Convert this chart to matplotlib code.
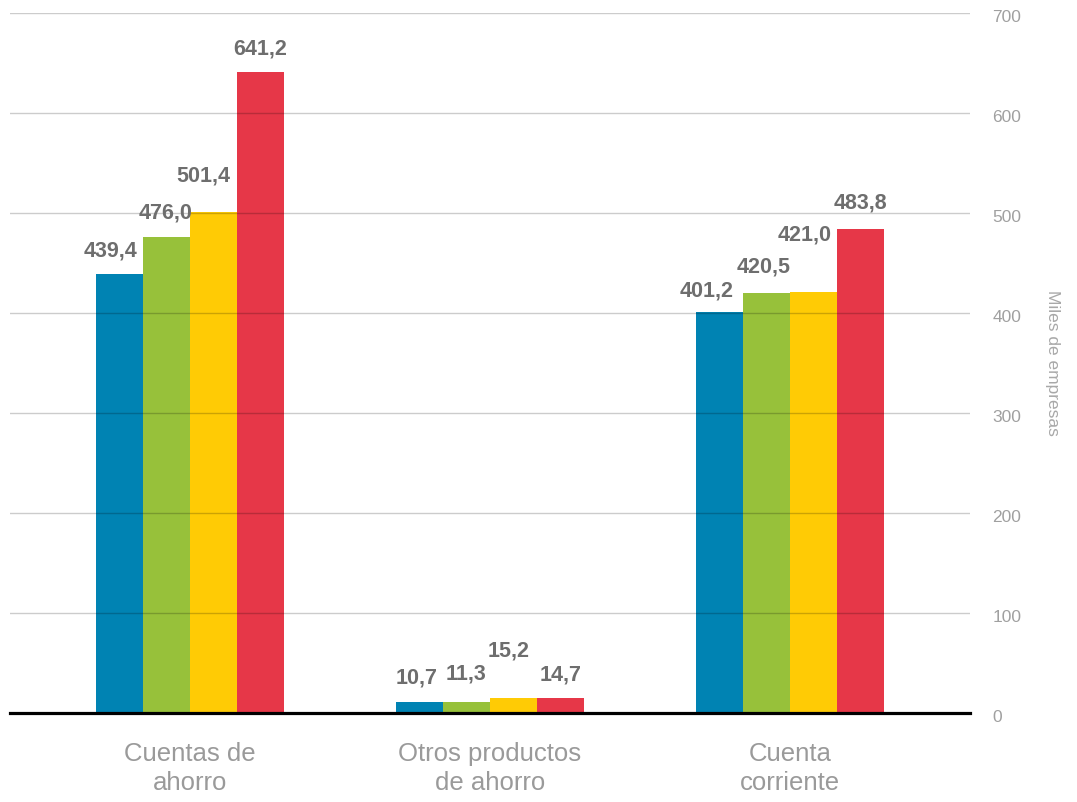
import matplotlib
matplotlib.use("Agg")
import matplotlib.pyplot as plt
import matplotlib.transforms as mtransforms
import numpy as np

# Data
categories = ["Cuentas de\nahorro", "Otros productos\nde ahorro", "Cuenta\ncorriente"]
serie_1 = [439.4, 10.7, 401.2]
serie_2 = [476.0, 11.3, 420.5]
serie_3 = [501.4, 15.2, 421.0]
serie_4 = [641.2, 14.7, 483.8]
yticks = [0, 100, 200, 300, 400, 500, 600, 700]

series = [serie_1, serie_2, serie_3, serie_4]
colors = ["#0083B3", "#97C13A", "#FFCB05", "#E63748"]

# label placement (baseline above value, horizontal shift in px)
label_dy = [[17, 19, 15], [19, 22, 20], [30, 41, 52], [17, 18, 21]]
label_dx = [[-9, -3, -13], [-1, 0, -3], [-10, -5, -9], [0, 0, 0]]

plt.rcParams["font.family"] = ["Liberation Sans", "DejaVu Sans"]

fig = plt.figure(figsize=(10.77, 8.02), dpi=100)
ax = fig.add_axes([10 / 1077, 89 / 802, 960 / 1077, 700 / 802])

x = np.arange(len(categories))
width = 0.1567

for i, (vals, col) in enumerate(zip(series, colors)):
    pos = x + (i - 1.5) * width
    ax.bar(pos, vals, width=width, color=col, zorder=1, linewidth=0)
    for j, v in enumerate(vals):
        ax.annotate(f"{v:.1f}".replace(".", ","),
                    (pos[j], v + label_dy[i][j]),
                    xytext=(label_dx[i][j] * 0.72, 0), textcoords="offset points",
                    ha="center", va="baseline", fontsize=15.5,
                    fontweight="bold", color="#6e6e6e", zorder=5)

ax.set_xlim(-0.6, 2.6)
ax.set_ylim(0, 700)

# grid drawn over the bars
for t in yticks[1:]:
    ax.axhline(t, color="black", alpha=0.2, lw=1, zorder=2)
ax.axhline(0, color="black", lw=2.3, zorder=3, clip_on=False)

for s in ax.spines.values():
    s.set_visible(False)

ax.yaxis.tick_right()
ax.set_yticks(yticks)
ax.set_yticklabels([str(t) for t in yticks])
ax.tick_params(axis="y", length=0, pad=16, labelsize=12.5, labelcolor="#a0a0a0")
offset = mtransforms.ScaledTranslation(0, -4 / 100, fig.dpi_scale_trans)
for lab in ax.get_yticklabels():
    lab.set_verticalalignment("center")
    lab.set_transform(lab.get_transform() + offset)

ax.set_xticks(x)
ax.set_xticklabels(categories)
ax.tick_params(axis="x", length=0, pad=21, labelsize=18.5, labelcolor="#9a9a9a")
for lab in ax.get_xticklabels():
    lab.set_linespacing(1.25)

ax.text(1.086, 0.5, "Miles de empresas", transform=ax.transAxes, rotation=270,
        ha="center", va="center", fontsize=12.5, color="#a8a8a8")

fig.savefig("out.png", dpi=100)
